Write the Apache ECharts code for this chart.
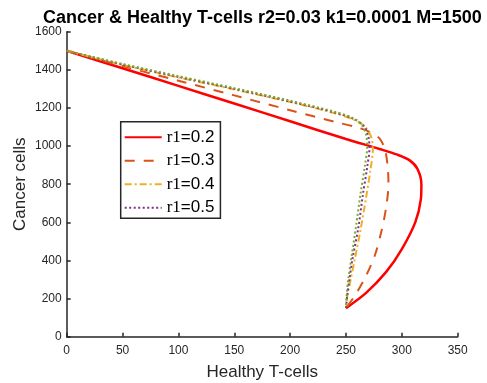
<!DOCTYPE html>
<html>
<head>
<meta charset="utf-8">
<script src="https://cdn.jsdelivr.net/npm/echarts@6/dist/echarts.min.js"></script>
<style>
  html, body { margin: 0; padding: 0; background: #fff; }
  #chart { width: 487px; height: 383px; }
</style>
</head>
<body>
<div id="chart"></div>
<script>
// healthy T-cells (x) and cancer cells (y) for each r1
const tcells02 = [0, 50, 100, 150, 200, 250, 280, 296, 307, 314, 317.5, 317, 312, 300, 286, 268, 250];
const cancer02 = [1500, 1408, 1316, 1223, 1130, 1037, 985, 955, 925, 880, 800, 720, 600, 460, 340, 230, 150];

const tcells03 = [0, 50, 100, 150, 200, 240, 260, 272, 280, 285, 287.5, 288, 286, 282, 276, 268, 259, 250];
const cancer03 = [1500, 1420, 1343, 1266, 1188, 1127, 1098, 1072, 1040, 980, 880, 800, 680, 560, 430, 320, 225, 150];

const tcells04 = [0, 50, 100, 150, 200, 240, 258, 268, 273, 274, 272, 268, 263, 258, 254, 251, 250];
const cancer04 = [1500, 1426, 1360, 1297, 1231, 1172, 1136, 1096, 1040, 980, 880, 730, 560, 410, 295, 205, 150];

const tcells05 = [0, 50, 100, 150, 200, 240, 257, 266, 270, 271, 269, 265, 261, 256, 253, 251, 250];
const cancer05 = [1500, 1428, 1363, 1300, 1234, 1176, 1142, 1105, 1050, 990, 890, 740, 570, 415, 298, 208, 150];

const tcells06 = [0, 50, 100, 150, 200, 240, 256, 264, 268, 269, 267, 263, 259, 255, 252, 250.5, 250];
const cancer06 = [1500, 1431, 1367, 1304, 1238, 1180, 1148, 1112, 1060, 1000, 900, 750, 580, 420, 300, 210, 150];

const xTicks = [0, 50, 100, 150, 200, 250, 300, 350];
const yTicks = [0, 200, 400, 600, 800, 1000, 1200, 1400, 1600];

function pairs(xs, ys) {
  return xs.map(function (x, i) { return [x, ys[i]]; });
}

const axisColor = '#262626';
const font = 'Liberation Sans, Arial, sans-serif';

function mkSeries(name, xs, ys, color, width, dash) {
  return {
    name: name,
    type: 'line',
    data: pairs(xs, ys),
    smooth: 0.3,
    symbol: 'none',
    lineStyle: { color: color, width: width, type: dash },
    itemStyle: { color: color },
    z: 2
  };
}

const chart = echarts.init(document.getElementById('chart'));

chart.setOption({
  backgroundColor: '#fff',
  animation: false,
  title: {
    text: 'Cancer & Healthy T-cells r2=0.03 k1=0.0001 M=1500',
    left: 43,
    top: 9,
    padding: 0,
    textStyle: { fontFamily: font, fontSize: 18, fontWeight: 'bold', color: '#000' }
  },
  grid: { left: 66.7, right: 29.3, top: 31.7, bottom: 46.3, outerBoundsMode: 'none', containLabel: false },
  legend: {
    data: ['r1=0.2', 'r1=0.3', 'r1=0.4', 'r1=0.5'],
    orient: 'vertical',
    left: 120.7,
    top: 121.7,
    itemWidth: 37,
    itemHeight: 14,
    itemGap: 6.5,
    padding: [7, 6, 2, 3],
    backgroundColor: '#fff',
    borderColor: axisColor,
    borderWidth: 1.5,
    borderRadius: 0,
    // line sample only, no marker
    itemStyle: { color: 'rgba(0,0,0,0)', borderWidth: 0, opacity: 0 },
    formatter: function (name) {
      return '{s|r1}{n|' + name.slice(2) + '}';
    },
    textStyle: {
      color: '#000',
      rich: {
        s: { fontFamily: 'Liberation Serif, Times New Roman, serif', fontSize: 17, lineHeight: 14 },
        n: { fontFamily: font, fontSize: 17, lineHeight: 14 }
      }
    }
  },
  xAxis: {
    type: 'value',
    min: 0,
    max: 350,
    interval: 50,
    name: 'Healthy T-cells',
    nameLocation: 'middle',
    nameGap: 27,
    nameMoveOverlap: false,
    nameTextStyle: { fontFamily: font, fontSize: 17, color: axisColor },
    axisLine: { lineStyle: { color: axisColor, width: 1.5 } },
    axisTick: { inside: true, length: 4, lineStyle: { color: axisColor, width: 1.5 } },
    axisLabel: {
      fontFamily: font, fontSize: 12, color: axisColor, margin: 8,
      formatter: function (v) { return xTicks.indexOf(v) >= 0 ? String(v) : ''; }
    },
    splitLine: { show: false }
  },
  yAxis: {
    type: 'value',
    min: 0,
    max: 1600,
    interval: 200,
    name: 'Cancer cells',
    nameLocation: 'middle',
    nameGap: 38,
    nameMoveOverlap: false,
    nameTextStyle: { fontFamily: font, fontSize: 17, color: axisColor },
    axisLine: { show: true, lineStyle: { color: axisColor, width: 1.5 } },
    axisTick: { show: true, inside: true, length: 4, lineStyle: { color: axisColor, width: 1.5 } },
    axisLabel: {
      fontFamily: font, fontSize: 12, color: axisColor, margin: 5,
      formatter: function (v) { return yTicks.indexOf(v) >= 0 ? String(v) : ''; }
    },
    splitLine: { show: false }
  },
  series: [
    mkSeries('r1=0.2', tcells02, cancer02, '#FF0000', 2.5, 'solid'),
    mkSeries('r1=0.3', tcells03, cancer03, '#D95319', 2, [10, 9]),
    mkSeries('r1=0.4', tcells04, cancer04, '#EDB120', 2, [7, 3, 2, 3]),
    mkSeries('r1=0.5', tcells05, cancer05, '#7E2F8E', 2, [2, 2.5]),
    mkSeries('r1=0.6', tcells06, cancer06, '#77AC30', 2, [2, 2.5])
  ]
});
</script>
</body>
</html>
